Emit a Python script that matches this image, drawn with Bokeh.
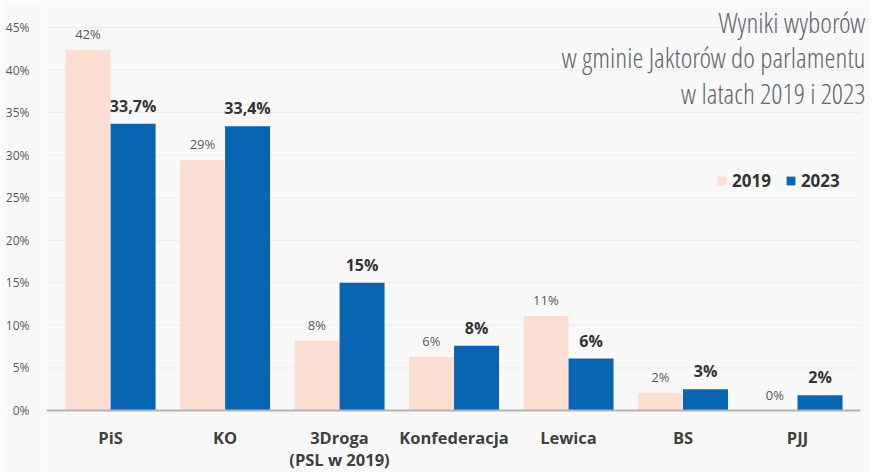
from bokeh.plotting import figure
from bokeh.models import (ColumnDataSource, FixedTicker, Legend, LegendItem, Range1d)
from bokeh.core.properties import value
from bokeh.embed import file_html
from bokeh.resources import INLINE

categories = ["PiS", "KO", "3Droga", "Konfederacja", "Lewica", "BS", "PJJ"]
category_sublabels = ["", "", "(PSL w 2019)", "", "", "", ""]
v2019 = [42.4, 29.4, 8.2, 6.3, 11.1, 2.1, 0.0]
v2023 = [33.7, 33.4, 15.0, 7.6, 6.1, 2.5, 1.8]
labels_2019 = ["42%", "29%", "8%", "6%", "11%", "2%", "0%"]
labels_2023 = ["33,7%", "33,4%", "15%", "8%", "6%", "3%", "2%"]
y_ticks = [0, 5, 10, 15, 20, 25, 30, 35, 40, 45]
title_lines = ["Wyniki wyborów", "w gminie Jaktorów do parlamentu", "w latach 2019 i 2023"]

C19 = "#fcdfd2"
C23 = "#0865b1"
BG = "#f9f9f9"
TITLE_FONT = "'Open Sans Condensed Light', 'Open Sans Condensed', 'DejaVu Sans Condensed', Roboto"

X0, X1 = -0.568, 6.638      # visible x extent
XL, XR = -0.559, 6.55       # extent of axis line / grid
Y0, Y1 = -7.285, 47.59

xs = list(range(len(categories)))
dodge = 0.197
bw = 0.393

src19 = ColumnDataSource(dict(x=[i - dodge for i in xs], top=v2019, lab=labels_2019))
src23 = ColumnDataSource(dict(x=[i + dodge for i in xs], top=v2023, lab=labels_2023))
src_cat = ColumnDataSource(dict(x=xs, y=[0] * len(xs), t=categories, s=category_sublabels))
src_grid = ColumnDataSource(dict(y=y_ticks[1:]))
src_title = ColumnDataSource(dict(x=[6.594] * 3, y=[45.63, 41.52, 37.25], t=title_lines))

p = figure(width=870, height=472, output_backend="svg", toolbar_location=None,
           x_range=Range1d(X0, X1), y_range=Range1d(Y0, Y1),
           min_border_left=45, min_border_right=0, min_border_top=5, min_border_bottom=0)
p.background_fill_color = BG
p.border_fill_color = BG
p.outline_line_color = None

# grid lines and axis line
p.segment(x0=XL, x1=XR, y0="y", y1="y", source=src_grid, line_color="#ededed", line_width=1)
r19 = p.vbar(x="x", top="top", width=bw, source=src19, fill_color=C19, line_color=None)
r23 = p.vbar(x="x", top="top", width=bw, source=src23, fill_color=C23, line_color=None)
p.segment(x0=XL, x1=XR, y0=0, y1=0, line_color="#b4b4b4", line_width=2)

p.text(x="x", y="top", text="lab", source=src19, text_align="center", text_baseline="bottom",
       y_offset=-7, text_font=value("Open Sans"), text_font_size="13px", text_color="#595959")
p.text(x="x", y="top", text="lab", source=src23, text_align="center", text_baseline="bottom",
       y_offset=-7, text_font=value("Open Sans"), text_font_size="16px", text_font_style="bold",
       text_color="#333333")

# category labels below the axis line
p.text(x="x", y="y", text="t", source=src_cat, text_align="center", text_baseline="middle",
       y_offset=27, text_font=value("Open Sans"), text_font_size="16.5px", text_font_style="bold",
       text_color="#404040")
p.text(x="x", y="y", text="s", source=src_cat, text_align="center", text_baseline="middle",
       y_offset=49, text_font=value("Open Sans"), text_font_size="16.5px", text_font_style="bold",
       text_color="#404040")

# title
p.text(x="x", y="y", text="t", source=src_title, text_align="right", text_baseline="alphabetic",
       text_font=value(TITLE_FONT), text_font_size="28px", text_color="#5f6771")

# axes
p.xaxis.visible = False
p.yaxis.ticker = FixedTicker(ticks=y_ticks)
p.yaxis.major_label_overrides = {t: f"{t}%" for t in y_ticks}
p.yaxis.axis_line_color = None
p.yaxis.major_tick_line_color = None
p.yaxis.minor_tick_line_color = None
p.yaxis.major_label_text_font = "Open Sans"
p.yaxis.major_label_text_font_size = "12px"
p.yaxis.major_label_text_color = "#595959"
p.yaxis.major_label_standoff = 10
p.xgrid.grid_line_color = None
p.ygrid.grid_line_color = None

legend = Legend(items=[LegendItem(label="2019", renderers=[r19]),
                       LegendItem(label="2023", renderers=[r23])],
                orientation="horizontal", location=(671, 280),
                glyph_width=11, glyph_height=11, label_standoff=5, spacing=14,
                label_text_font="Open Sans", label_text_font_size="17px",
                label_text_font_style="bold", label_text_color="#333333",
                background_fill_alpha=0, border_line_color=None, padding=0, margin=0)
p.add_layout(legend)

open("out.html", "w").write(file_html(p, INLINE))
